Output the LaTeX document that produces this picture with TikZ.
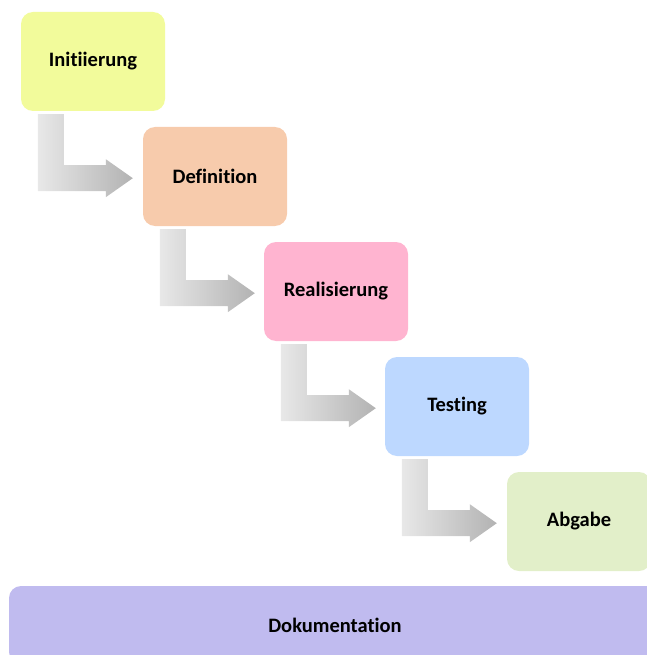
\documentclass[tikz,border=0pt]{standalone}
\usepackage{fontspec}
\setmainfont{Carlito}[Ligatures={NoCommon,NoDiscretionary,NoContextual}]
\definecolor{cA}{HTML}{F2FB9B}
\definecolor{cB}{HTML}{F7CBAC}
\definecolor{cC}{HTML}{FFB4D0}
\definecolor{cD}{HTML}{BDD8FF}
\definecolor{cE}{HTML}{E2EFC9}
\definecolor{cF}{HTML}{C0BBEF}
\begin{document}
\begin{tikzpicture}[x=1pt,y=-1pt,
  box/.style={rounded corners=12pt, minimum width=144pt, minimum height=99pt, inner sep=0pt,
    font=\bfseries\fontsize{20.5}{24}\selectfont}]
\useasboundingbox (0,0) rectangle (646,655);
\node[box, fill=cA] (b1) at (93,61.5) {Initiierung};
\node[box, fill=cB] (b2) at (215,176.5) {Definition};
\node[box, fill=cC] (b3) at (336,291.5) {Realisierung};
\node[box, fill=cD] (b4) at (457,406.5) {Testing};
\node[box, fill=cE] (b5) at (579,521.5) {Abgabe};
\node[box, fill=cF, minimum width=652pt, minimum height=78pt] (doc) at (335,625) {Dokumentation};
\foreach \n in {b1,b2,b3,b4}{
  \begin{scope}[shift={(\n.south west)}]
    \shade[left color=gray!18, right color=gray!60]
      (17,3) -- (43,3) -- (43,54) -- (85,54) -- (85,48) -- (112,67) -- (85,86) -- (85,80) -- (17,80) -- cycle;
  \end{scope}
}
\end{tikzpicture}
\end{document}
